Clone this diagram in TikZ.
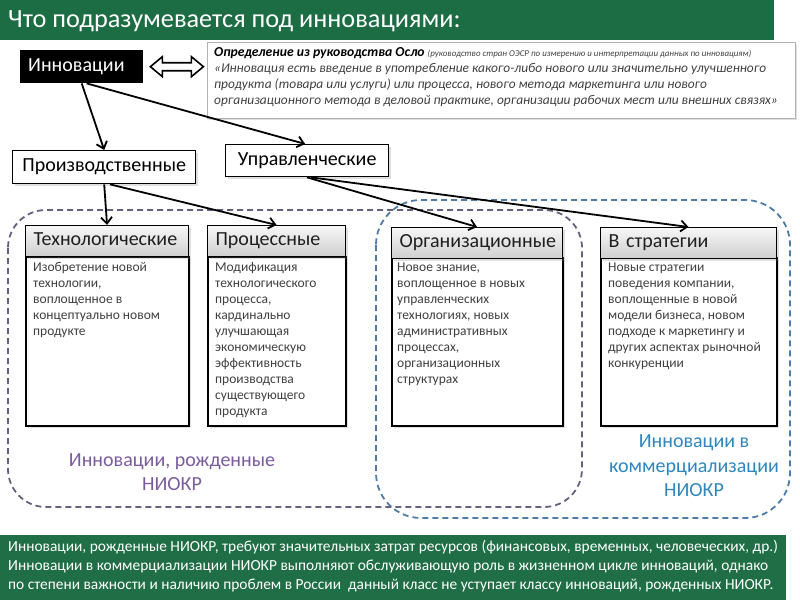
\documentclass[tikz,border=0pt]{standalone}
\usepackage{fontspec}
\setmainfont{Carlito}
\usetikzlibrary{arrows.meta,calc,shadows}
\definecolor{tgreen}{HTML}{1C6C44}
\definecolor{bgreen}{HTML}{1F6E45}
\definecolor{dpurple}{HTML}{66607F}
\definecolor{dblue}{HTML}{4F7CA6}
\definecolor{lpurple}{HTML}{7A5C9C}
\definecolor{lblue}{HTML}{2F86BC}
\definecolor{bodytext}{HTML}{404040}
\newcommand\myfs[2]{\fontsize{#1}{#2}\selectfont}
\tikzset{
  shd/.style={drop shadow={opacity=0.25,shadow xshift=2pt,shadow yshift=-2pt}},
  lvlbox/.style={draw=black,line width=1.4pt,fill=white,shd,inner sep=0pt,font=\myfs{20}{24}},
  hdr/.style={draw=black,line width=1.1pt,top color=gray!6,bottom color=gray!38,anchor=north west,
    minimum height=31pt,inner xsep=8pt,inner ysep=0pt,align=left,font=\myfs{20}{24},text=black!88,
    text height=13.5pt,text depth=4pt,shd},
  bodybox/.style={draw=black,line width=1.6pt,fill=white,anchor=north west,inner sep=0pt,shd},
  bodytxt/.style={anchor=north west,align=left,inner sep=0pt,font=\myfs{13.5}{16},text=bodytext},
  conn/.style={line width=1.8pt,-{Straight Barb[length=6.5pt,width=11pt,line width=1.8pt]}},
  region/.style={line width=1.8pt,dash pattern=on 6pt off 4pt},
}
\begin{document}
\begin{tikzpicture}[x=1pt,y=-1pt]
\useasboundingbox (0,0) rectangle (800,600);
% title bar
\fill[tgreen] (0,0) rectangle (774,40);
\node[anchor=west,text=white,font=\myfs{26.3}{30},inner sep=0pt] (title) at (8,21) {Что подразумевается под инновациями:};

% dashed regions
\draw[region,dblue] (376,200) [rounded corners=45pt] rectangle (790,518);
\draw[region,dpurple] (8,210) [rounded corners=38pt] rectangle (582,507);

% definition box
\node[draw=gray!60,line width=0.8pt,fill=white,shd,anchor=north west,minimum width=588pt,minimum height=76pt,inner sep=0pt] (def) at (207,42) {};
\node[anchor=north west,align=left,inner sep=0pt,font=\myfs{13.4}{16.1}\itshape,text=black!75] (deftxt) at (214,47)
 {{\myfs{13.7}{16.1}\bfseries\color{black}Определение из руководства Осло} {\myfs{8.9}{10}(руководство стран ОЭСР по измерению и интерпретации данных по инновациям)}\\
 «Инновация есть введение в употребление какого-либо нового или значительно улучшенного\\
 продукта (товара или услуги) или процесса, нового метода маркетинга или нового\\
 организационного метода в деловой практике, организации рабочих мест или внешних связях»};

% Innovations
\node[fill=black,anchor=north west,minimum width=123pt,minimum height=33pt,text width=107pt,inner xsep=8pt,align=left,text=white,font=\myfs{20}{24}] (inn) at (20,50) {Инновации};

% hollow double arrow
\draw[line width=1.6pt,fill=white,line join=miter]
  ($(inn.east)+(7,0)$) -- ++(12,-10) -- ++(0,6) -- ++(29,0) -- ++(0,-6) -- ++(12,10)
  -- ++(-12,10) -- ++(0,-6) -- ++(-29,0) -- ++(0,6) -- cycle;

% level 2
\node[lvlbox,anchor=north west,minimum width=183pt,minimum height=33pt] (proizv) at (12,150) {Производственные};
\node[lvlbox,anchor=north west,minimum width=163pt,minimum height=32pt] (upr) at (225,144) {Управленческие};

% cards
\node[bodybox,minimum width=163pt,minimum height=169pt] (techb) at (25,256) {};
\node[hdr,minimum width=163pt,text width=147pt] (tech) at (25,225) {Технологические};
\node[bodytxt] (techt) at ($(techb.north west)+(8,6)$) {Изобретение новой\\технологии,\\воплощенное в\\концептуально новом\\продукте};

\node[bodybox,minimum width=138pt,minimum height=169pt] (procb) at (207,256) {};
\node[hdr,minimum width=138pt,text width=122pt] (proc) at (207,225) {Процессные};
\node[bodytxt] (proct) at ($(procb.north west)+(8,6)$) {Модификация\\технологического\\процесса,\\кардинально\\улучшающая\\экономическую\\эффективность\\производства\\существующего\\продукта};

\node[bodybox,minimum width=171pt,minimum height=168pt] (orgb) at (391,257) {};
\node[hdr,minimum width=171pt,text width=155pt] (org) at (391,227) {Организационные};
\node[bodytxt] (orgt) at ($(orgb.north west)+(6,6)$) {Новое знание,\\воплощенное в новых\\управленческих\\технологиях, новых\\административных\\процессах,\\организационных\\структурах};

\node[bodybox,minimum width=176pt,minimum height=168pt] (stratb) at (600,257) {};
\node[hdr,minimum width=176pt,text width=160pt] (strat) at (600,227) {В стратегии};
\node[bodytxt] (stratt) at ($(stratb.north west)+(8,6)$) {Новые стратегии\\поведения компании,\\воплощенные в новой\\модели бизнеса, новом\\подходе к маркетингу и\\других аспектах рыночной\\конкуренции};

% connectors
\draw[conn] (inn.south) -- (proizv.north);
\draw[conn] ([xshift=5pt]inn.south) -- ([xshift=-2pt]upr.north);
\draw[conn] (proizv.south) -- (tech.north);
\draw[conn] ([xshift=6pt]proizv.south) -- (proc.north);
\draw[conn] (upr.south) -- (org.north);
\draw[conn] ([xshift=4pt]upr.south) -- (strat.north);

% region labels
\node[align=center,text=lpurple,font=\myfs{20}{23.5},inner sep=0pt] (lblp) at (172,472) {Инновации, рожденные\\НИОКР};
\node[align=center,text=lblue,font=\myfs{20}{24.5},inner sep=0pt] (lblb) at (694,466) {Инновации в\\коммерциализации\\НИОКР};

% bottom bar
\fill[bgreen] (0,535) rectangle (786,600);
\node[anchor=north west,align=left,inner sep=0pt,text=white,font=\myfs{15.4}{19.2}] (bottom) at (8,540)
 {Инновации, рожденные НИОКР, требуют значительных затрат ресурсов (финансовых, временных, человеческих, др.)\\
 Инновации в коммерциализации НИОКР выполняют обслуживающую роль в жизненном цикле инноваций, однако\\
 по степени важности и наличию проблем в России \ данный класс не уступает классу инноваций, рожденных НИОКР.};
\end{tikzpicture}
\end{document}
